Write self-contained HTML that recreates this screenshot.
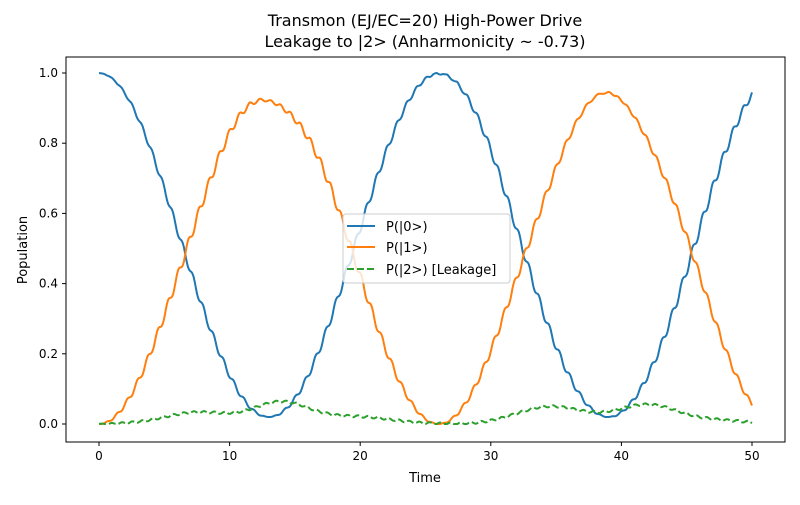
<!DOCTYPE html>
<html><head><meta charset="utf-8"><style>
body{margin:0;background:#fff}
svg text{font-family:"DejaVu Sans","Liberation Sans",sans-serif;fill:#000}
</style></head><body>
<svg id="s" width="800" height="500" xmlns="http://www.w3.org/2000/svg">
<rect width="800" height="500" fill="#fff"/>
<text x="425" y="26" font-size="16" text-anchor="middle">Transmon (EJ/EC=20) High-Power Drive</text>
<text x="425" y="47" font-size="16" text-anchor="middle">Leakage to |2&gt; (Anharmonicity ~ -0.73)</text>
<g id="plot"></g>
<rect x="66" y="57" width="719" height="385" fill="none" stroke="#000" stroke-width="1"/>
<g font-size="12" id="ticks"></g>
<text x="425" y="482" font-size="13" text-anchor="middle">Time</text>
<text x="27" y="250" font-size="13" text-anchor="middle" transform="rotate(-90 27 250)">Population</text>
<g>
<rect x="343" y="214" width="167" height="69" rx="3" fill="#fff" fill-opacity="0.8" stroke="#ccc"/>
<line x1="347" y1="226" x2="375" y2="226" stroke="#1f77b4" stroke-width="2"/>
<line x1="347" y1="247" x2="375" y2="247" stroke="#ff7f0e" stroke-width="2"/>
<line x1="347" y1="269" x2="375" y2="269" stroke="#2ca02c" stroke-width="2" stroke-dasharray="7,3"/>
<text x="386" y="231" font-size="13">P(|0&gt;)</text>
<text x="386" y="252" font-size="13">P(|1&gt;)</text>
<text x="386" y="274" font-size="13">P(|2&gt;) [Leakage]</text>
</g>
</svg>
<script>
const X=t=>99+t*13.06, Y=v=>424-v*351;
const g=(t,m,s,a)=>a*Math.exp(-((t-m)*(t-m))/(2*s*s));
function L(t){return g(t,7.5,2.5,0.033)+g(t,14,2.2,0.062)+g(t,20,2.5,0.02)+g(t,34.5,2.5,0.05)+g(t,42,2.5,0.055)+g(t,48,2,0.008)+0.003*Math.sin(t*8)*(1-Math.exp(-t));}
let p0="",p1="",p2="";
for(let i=0;i<=1000;i++){const t=i*0.05;
 const th=Math.PI*t/26; let l=Math.max(0,L(t));
 const w=0.012*Math.sin(2*Math.PI*t/0.78)*Math.abs(Math.sin(2*th));
 const c=Math.cos(th)**2;
 const a=Math.min(1,(1-l-0.02)*c+0.02+w), b=Math.max(0,1-a-l);
 const c0=i?"L":"M";
 p0+=c0+X(t).toFixed(1)+","+Y(a).toFixed(1);
 p1+=c0+X(t).toFixed(1)+","+Y(b).toFixed(1);
 p2+=c0+X(t).toFixed(1)+","+Y(l).toFixed(1);}
document.getElementById("plot").innerHTML=
`<path d="${p0}" fill="none" stroke="#1f77b4" stroke-width="2"/>
<path d="${p1}" fill="none" stroke="#ff7f0e" stroke-width="2"/>
<path d="${p2}" fill="none" stroke="#2ca02c" stroke-width="2" stroke-dasharray="7,3"/>`;
let tk="";
for(let t=0;t<=50;t+=10){const x=X(t);tk+=`<line x1="${x}" y1="442" x2="${x}" y2="446" stroke="#000"/><text x="${x}" y="460" text-anchor="middle">${t}</text>`;}
for(let k=0;k<=5;k++){const v=k*0.2,y=Y(v);tk+=`<line x1="62" y1="${y}" x2="66" y2="${y}" stroke="#000"/><text x="58" y="${y+4}" text-anchor="end">${v.toFixed(1)}</text>`;}
document.getElementById("ticks").innerHTML=tk;
</script>
</body></html>
